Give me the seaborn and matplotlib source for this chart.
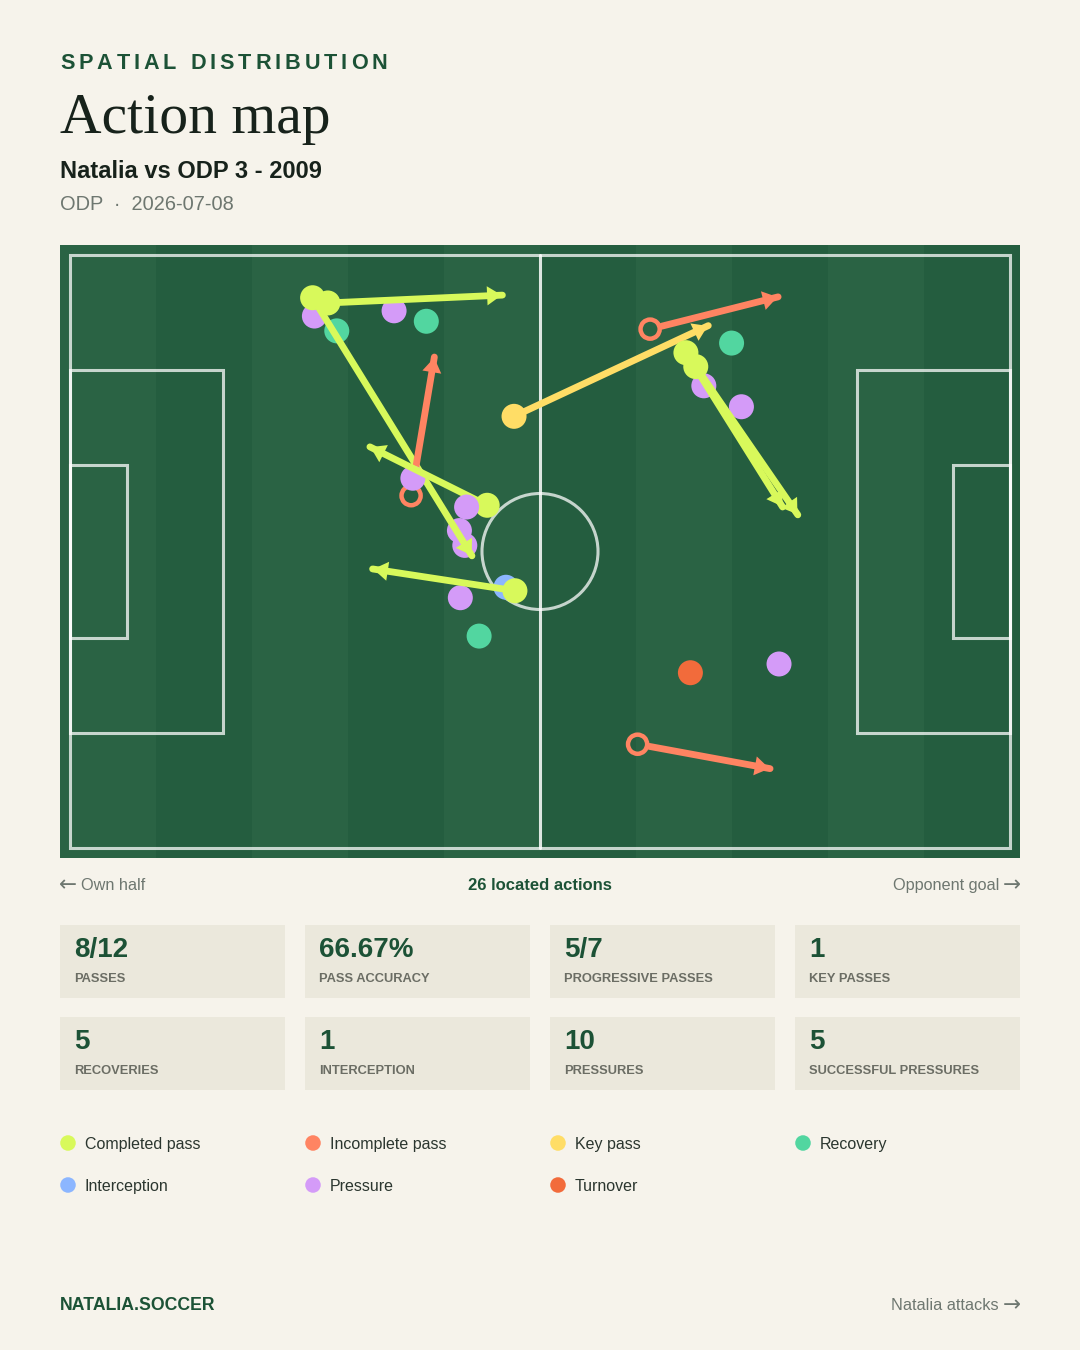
import numpy as np
import pandas as pd
import matplotlib
matplotlib.use("Agg")
import matplotlib.pyplot as plt
import seaborn as sns
from matplotlib.patches import Rectangle, Ellipse
from matplotlib import font_manager, ft2font
from matplotlib.font_manager import FontProperties

# ---------------- data ----------------
action_type = [
    "Pressure", "Recovery", "Pressure", "Recovery", "Completed pass",
    "Pressure", "Pressure", "Completed pass", "Incomplete pass", "Pressure",
    "Completed pass", "Pressure", "Pressure", "Interception", "Completed pass",
    "Recovery", "Key pass", "Incomplete pass", "Recovery", "Pressure",
    "Pressure", "Completed pass", "Completed pass", "Turnover", "Pressure",
    "Incomplete pass",
]
x_start = [27.3, 29.8, 36.2, 39.8, 28.8, 43.5, 44.1, 27.1, 38.1, 38.3,
           46.6, 44.3, 43.6, 48.7, 49.7, 45.7, 49.6, 64.8, 73.9, 70.8,
           75.0, 68.8, 69.9, 69.3, 79.2, 63.4]
y_start = [7.0, 8.7, 6.4, 7.6, 5.5, 31.6, 33.3, 4.9, 27.6, 25.6,
           28.7, 28.9, 39.3, 38.1, 38.5, 43.7, 18.5, 8.5, 10.1, 15.0,
           17.4, 11.2, 12.8, 47.9, 46.9, 56.1]
x_end = [np.nan, np.nan, np.nan, np.nan, 48.3, np.nan, np.nan, 44.9, 40.7, np.nan,
         33.5, np.nan, np.nan, np.nan, 33.8, np.nan, 71.3, 79.1, np.nan, np.nan,
         np.nan, 79.6, 81.3, np.nan, np.nan, 78.2]
y_end = [np.nan, np.nan, np.nan, np.nan, 4.6, np.nan, np.nan, 34.5, 11.7, np.nan,
         22.0, np.nan, np.nan, np.nan, 36.0, np.nan, 8.1, 4.8, np.nan, np.nan,
         np.nan, 28.9, 29.8, np.nan, np.nan, 58.9]

legend_labels = ["Completed pass", "Incomplete pass", "Key pass", "Recovery",
                 "Interception", "Pressure", "Turnover"]
legend_colors = ["#D8F95B", "#FF8462", "#FFDD66", "#52D6A0",
                 "#8CB6FF", "#D49BF8", "#F26B3B"]

stat_values = ["8/12", "66.67%", "5/7", "1", "5", "1", "10", "5"]
stat_labels = ["PASSES", "PASS ACCURACY", "PROGRESSIVE PASSES", "KEY PASSES",
               "RECOVERIES", "INTERCEPTION", "PRESSURES", "SUCCESSFUL PRESSURES"]

eyebrow = "SPATIAL DISTRIBUTION"
title = "Action map"
subtitle = "Natalia vs ODP 3 - 2009"
meta = "ODP  \u00b7  2026-07-08"
left_note = "Own half"
center_note = "26 located actions"
right_note = "Opponent goal"
brand = "NATALIA.SOCCER"
attack_note = "Natalia attacks"
arrow_left = "\u2190"
arrow_right = "\u2192"

# ---------------- style ----------------
BG = "#F6F3EB"
BOX = "#EBE8DC"
DARK_GREEN = "#1C5236"
INK = "#17221B"
GREY = "#6E7770"
LABEL_GREY = "#6B6D64"
STRIPE_A = "#2A6344"
STRIPE_B = "#245D3F"

sns.set_theme(style="white")
plt.rcParams["font.family"] = ["Liberation Sans", "DejaVu Sans"]
plt.rcParams["figure.facecolor"] = BG

palette = dict(zip(legend_labels, legend_colors))

W, H = 1080, 1350
fig = plt.figure(figsize=(W / 100, H / 100), dpi=100)

# overlay axes in pixel coordinates for layout
axo = fig.add_axes([0, 0, 1, 1], zorder=0)
axo.set_xlim(0, W)
axo.set_ylim(H, 0)
axo.axis("off")

# ---------------- pitch ----------------
PL, PW = 105.0, 68.0
mx = 10 / (940 / PL)
my = 10 / (593 / PW)
ax = fig.add_axes([60 / W, 1 - 858 / H, 960 / W, 613 / H], zorder=2)
ax.set_xlim(-mx, PL + mx)
ax.set_ylim(PW + my, -my)
ax.axis("off")

n_stripes = 10
edges = np.linspace(-mx, PL + mx, n_stripes + 1)
for i in range(n_stripes):
    ax.axvspan(edges[i], edges[i + 1], color=STRIPE_A if i % 2 == 0 else STRIPE_B,
               lw=0, zorder=0)

lc = (1, 1, 1, 0.74)
lw_line = 2.2
ax.add_patch(Rectangle((0, 0), PL, PW, fill=False, ec=lc, lw=lw_line, zorder=1))
ax.plot([PL / 2, PL / 2], [0, PW], color=(1, 1, 1, 0.85), lw=lw_line, zorder=1)
ax.add_patch(Ellipse((PL / 2, PW / 2), 2 * 6.48, 2 * 6.65, fill=False, ec=lc,
                     lw=lw_line, zorder=1))
pen_d, pen_w = 17.1, 41.62
six_d, six_w = 6.37, 19.73
for x0, d in [(0, pen_d), (PL - pen_d, pen_d)]:
    ax.add_patch(Rectangle((x0, PW / 2 - pen_w / 2), d, pen_w, fill=False,
                           ec=lc, lw=lw_line, zorder=1))
for x0, d in [(0, six_d), (PL - six_d, six_d)]:
    ax.add_patch(Rectangle((x0, PW / 2 - six_w / 2), d, six_w, fill=False,
                           ec=lc, lw=lw_line, zorder=1))

df = pd.DataFrame(dict(type=action_type, x=x_start, y=y_start, ex=x_end, ey=y_end))
pass_types = {"Completed pass", "Incomplete pass", "Key pass"}
for i, row in df.iterrows():
    z = 5 + 3 * i
    c = palette[row.type]
    if row.type in pass_types:
        shrink = 8.5 if row.type == "Incomplete pass" else 0
        ax.annotate("", xy=(row.ex, row.ey), xytext=(row.x, row.y),
                    arrowprops=dict(arrowstyle="-", color=c, lw=4.9,
                                    shrinkA=shrink, shrinkB=0, capstyle="round"),
                    zorder=z)
        ax.annotate("", xy=(row.ex, row.ey), xytext=(row.x, row.y),
                    arrowprops=dict(arrowstyle="-|>,head_length=10.5,head_width=6.9",
                                    mutation_scale=1, color=c, lw=0,
                                    shrinkA=0, shrinkB=0.5),
                    zorder=z + 1)
    if row.type == "Incomplete pass":
        sns.scatterplot(x=[row.x], y=[row.y], ax=ax, s=190, color=c,
                        facecolor="none", edgecolor=c, linewidth=3.2,
                        zorder=z + 2, legend=False)
    else:
        sns.scatterplot(x=[row.x], y=[row.y], ax=ax, s=324, color=c,
                        edgecolor="none", linewidth=0, zorder=z + 2, legend=False)
ax.set_xlim(-mx, PL + mx)
ax.set_ylim(PW + my, -my)

# ---------------- header ----------------
def tracked_text(axis, x, y, s, size, spacing, **kw):
    fp = font_manager.findfont(FontProperties(family="Liberation Sans", weight="bold"))
    font = ft2font.FT2Font(fp)
    font.set_size(size, 100)
    for ch in s:
        axis.text(x, y, ch, fontsize=size, fontweight="bold", **kw)
        g = font.load_char(ord(ch))
        x += g.linearHoriAdvance / 65536 + spacing

tracked_text(axo, 60, 69, eyebrow, 15.6, 3.95, color=DARK_GREEN, va="baseline")
axo.text(60, 133, title, fontsize=41.5, family=["Liberation Serif", "DejaVu Serif"],
         color=INK, va="baseline")
axo.text(60, 178, subtitle, fontsize=17, fontweight="bold", color=INK, va="baseline")
axo.text(60, 210, meta, fontsize=14.4, color=GREY, va="baseline")

# ---------------- under pitch ----------------
ARROW_FONT = ["DejaVu Sans"]
AFS = 15.5
axo.text(59, 885, arrow_left, fontsize=AFS, family=ARROW_FONT, color=GREY,
         va="center", ha="left")
axo.text(81, 890, left_note, fontsize=11.7, color=GREY, va="baseline", ha="left")
axo.text(540, 890, center_note, fontsize=12, fontweight="bold", color=DARK_GREEN,
         va="baseline", ha="center")
axo.text(999, 890, right_note, fontsize=11.7, color=GREY, va="baseline", ha="right")
axo.text(1021, 885, arrow_right, fontsize=AFS, family=ARROW_FONT, color=GREY,
         va="center", ha="right")

# ---------------- stat boxes ----------------
box_w, box_h, gap = 225, 73, 20
for k, (v, lab) in enumerate(zip(stat_values, stat_labels)):
    r, col = divmod(k, 4)
    bx = 60 + col * (box_w + gap)
    by = 925 + r * 92
    axo.add_patch(Rectangle((bx, by), box_w, box_h, color=BOX, lw=0))
    axo.text(bx + 14, by + 32, v, fontsize=20, fontweight="bold", color=DARK_GREEN,
             va="baseline")
    axo.text(bx + 14, by + 57, lab, fontsize=9.3, fontweight="bold",
             color=LABEL_GREY, va="baseline")

# ---------------- legend ----------------
for k, (lab, c) in enumerate(zip(legend_labels, legend_colors)):
    r, col = divmod(k, 4)
    cx = 68 + col * 245
    cy = 1143 + r * 42
    axo.scatter([cx], [cy], s=125, color=c, edgecolor="none")
    axo.text(cx + 17, cy + 6, lab, fontsize=11.5, color="#2B362F", va="baseline")

# ---------------- footer ----------------
axo.text(60, 1310, brand, fontsize=12.7, fontweight="bold", color=DARK_GREEN,
         va="baseline")
axo.text(999, 1310, attack_note, fontsize=11.7, color=GREY, va="baseline", ha="right")
axo.text(1021, 1305, arrow_right, fontsize=AFS, family=ARROW_FONT, color=GREY,
         va="center", ha="right")

fig.savefig("out.png", dpi=100, facecolor=BG)
